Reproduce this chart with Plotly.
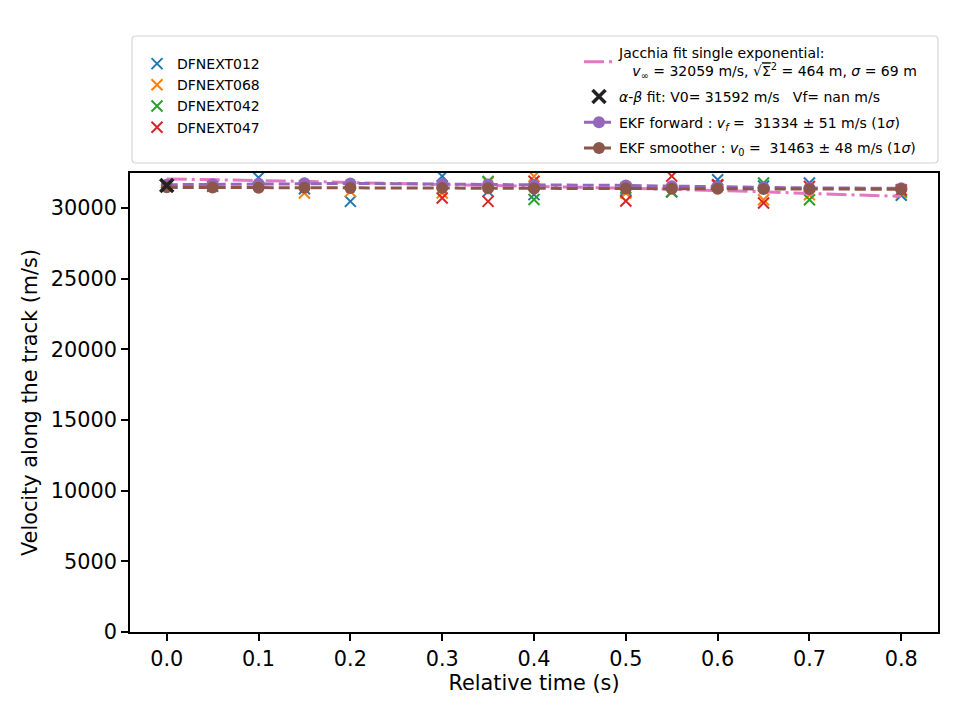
import plotly.graph_objects as go

# ---------------- data ----------------
t_blue = [0.05, 0.1, 0.15, 0.2, 0.3, 0.35, 0.4, 0.5, 0.55, 0.6, 0.65, 0.7, 0.8]
v_blue = [31540, 32150, 31370, 30470, 32250, 31180, 30950, 31250, 31150, 32000, 31560, 31770, 30900]

t_orange = [0.15, 0.2, 0.3, 0.35, 0.4, 0.5, 0.55, 0.6, 0.65, 0.7, 0.8]
v_orange = [31060, 31180, 31060, 31800, 32240, 31060, 31150, 31630, 30590, 30940, 31100]

t_green = [0.35, 0.4, 0.5, 0.55, 0.6, 0.65, 0.7, 0.8]
v_green = [31890, 30600, 31415, 31150, 31600, 31770, 30590, 31200]

t_red = [0.3, 0.35, 0.4, 0.5, 0.55, 0.6, 0.65, 0.7, 0.8]
v_red = [30710, 30470, 31900, 30500, 32260, 31650, 30360, 31530, 31300]

t_model = [0.0, 0.05, 0.1, 0.15, 0.2, 0.3, 0.35, 0.4, 0.5, 0.55, 0.6, 0.65, 0.7, 0.8]
v_jacchia = [32060, 32010, 31960, 31890, 31800, 31650, 31590, 31530, 31400, 31330, 31250, 31150, 31030, 30830]
v_ekf_fwd = [31650, 31680, 31720, 31750, 31740, 31700, 31660, 31640, 31600, 31550, 31500, 31450, 31420, 31400]
v_ekf_smo = [31463, 31450, 31440, 31430, 31420, 31410, 31400, 31390, 31380, 31370, 31360, 31350, 31340, 31330]

t_ab = [0.0]
v_ab = [31592]

station_names = ["DFNEXT012", "DFNEXT068", "DFNEXT042", "DFNEXT047"]
label_jacchia = ("Jacchia fit single exponential:<br>\u00a0\u00a0\u00a0<i>v</i><sub>∞</sub> = 32059 m/s, "
                 "√<span style='text-decoration:overline'>Σ</span><sup>2</sup> = 464 m, <i>σ</i> = 69 m")
label_ab = "<i>α</i>-<i>β</i> fit: V0= 31592 m/s \u00a0\u00a0Vf= nan m/s"
label_fwd = "EKF forward : <i>v<sub>f</sub></i> = \u00a031334 ± 51 m/s (1<i>σ</i>)"
label_smo = "EKF smoother : <i>v</i><sub>0</sub> = \u00a031463 ± 48 m/s (1<i>σ</i>)"

x_ticks = [0.0, 0.1, 0.2, 0.3, 0.4, 0.5, 0.6, 0.7, 0.8]
y_ticks = [0, 5000, 10000, 15000, 20000, 25000, 30000]

# ---------------- figure ----------------
W, H = 960, 720
L, R, T, B = 130, 22, 173, 88
pw, ph = W - L - R, H - T - B

colors = ["#1f77b4", "#ff7f0e", "#2ca02c", "#d62728"]
fig = go.Figure()

for name, tt, vv, c in zip(station_names, [t_blue, t_orange, t_green, t_red],
                           [v_blue, v_orange, v_green, v_red], colors):
    fig.add_trace(go.Scatter(x=tt, y=vv, mode="markers", name=name, legend="legend",
                             legendgroup=name,
                             marker=dict(symbol="x-thin", size=11, line=dict(width=2, color=c), color=c)))

fig.add_trace(go.Scatter(x=t_model, y=v_jacchia, mode="lines", name=label_jacchia, legend="legend2",
                         legendgroup="j", legendrank=1000,
                         line=dict(color="#e377c2", width=3, dash="20px,5px,3px,5px")))
fig.add_trace(go.Scatter(x=t_model, y=v_ekf_fwd, mode="lines+markers", name=label_fwd, legend="legend2",
                         legendgroup="f", legendrank=1200,
                         line=dict(color="#9467bd", width=3, dash="11px,5px"),
                         marker=dict(symbol="circle", size=12, color="#9467bd")))
fig.add_trace(go.Scatter(x=t_model, y=v_ekf_smo, mode="lines+markers", name=label_smo, legend="legend2",
                         legendgroup="s", legendrank=1300,
                         line=dict(color="#8c564b", width=3, dash="11px,5px"),
                         marker=dict(symbol="circle", size=12, color="#8c564b")))
fig.add_trace(go.Scatter(x=t_ab, y=v_ab, mode="markers", name=label_ab, legend="legend2",
                         legendgroup="a", legendrank=1100,
                         marker=dict(symbol="x-thin", size=13, line=dict(width=3.5, color="#222222"),
                                     color="#222222")))

# legend box (rounded rect) in paper coords
def px2x(px):
    return (px - L) / pw

def py2y(py):
    return (H - B - py) / ph

bx0, bx1, by0, by1 = 132, 938, 36, 163
r = 4
rx, ry = r / pw, r / ph
X0, X1, Y0, Y1 = px2x(bx0), px2x(bx1), py2y(by1), py2y(by0)
path = (f"M{X0+rx},{Y0} L{X1-rx},{Y0} Q{X1},{Y0} {X1},{Y0+ry} L{X1},{Y1-ry} Q{X1},{Y1} {X1-rx},{Y1} "
        f"L{X0+rx},{Y1} Q{X0},{Y1} {X0},{Y1-ry} L{X0},{Y0+ry} Q{X0},{Y0} {X0+rx},{Y0} Z")
fig.add_shape(type="path", path=path, xref="paper", yref="paper",
              line=dict(color="#d4d4d4", width=1.2), fillcolor="rgba(255,255,255,0.8)", layer="below")

font_family = "DejaVu Sans"
leg_font = dict(family=font_family, size=14, color="black")

fig.update_layout(
    width=W, height=H,
    margin=dict(l=L, r=R, t=T, b=B),
    paper_bgcolor="white", plot_bgcolor="white",
    font=dict(family=font_family, size=20.8, color="black"),
    showlegend=True,
    legend=dict(x=px2x(137), y=py2y(48), xanchor="left", yanchor="top",
                bgcolor="rgba(0,0,0,0)", font=leg_font, tracegroupgap=0, itemsizing="trace"),
    legend2=dict(x=px2x(579), y=py2y(37), xanchor="left", yanchor="top",
                 bgcolor="rgba(0,0,0,0)", font=leg_font, tracegroupgap=4.5, itemsizing="trace"),
    xaxis=dict(range=[-0.04, 0.84], tickvals=x_ticks, ticktext=[f"{v:.1f}" for v in x_ticks],
               showgrid=False, zeroline=False, showline=True, linecolor="black", linewidth=1.7,
               mirror=True, ticks="outside", ticklen=7, tickwidth=1.7, tickcolor="black",
               tickfont=dict(size=20.8),
               title=dict(text="Relative time (s)", standoff=6, font=dict(size=20.8))),
    yaxis=dict(range=[0, 32480], tickvals=y_ticks, ticktext=[str(v) for v in y_ticks],
               showgrid=False, zeroline=False, showline=True, linecolor="black", linewidth=1.7,
               mirror=True, ticks="outside", ticklen=7, tickwidth=1.7, tickcolor="black",
               tickfont=dict(size=20.8),
               title=dict(text="Velocity along the track (m/s)", standoff=8, font=dict(size=20.8))),
)

fig.write_html("out.html")
